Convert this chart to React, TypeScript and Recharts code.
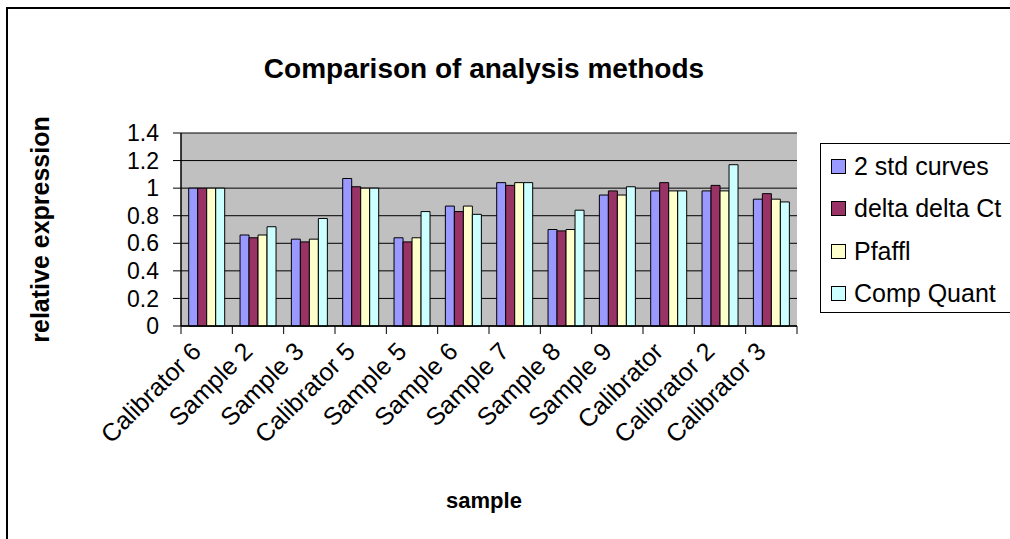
import React from 'react';
import { BarChart, Bar, XAxis, YAxis, CartesianGrid, Legend } from 'recharts';

const categories = ['Calibrator 6', 'Sample 2', 'Sample 3', 'Calibrator 5', 'Sample 5', 'Sample 6', 'Sample 7', 'Sample 8', 'Sample 9', 'Calibrator', 'Calibrator 2', 'Calibrator 3'];
const stdCurves = [1, 0.66, 0.63, 1.07, 0.64, 0.87, 1.04, 0.7, 0.95, 0.98, 0.98, 0.92];
const deltaDeltaCt = [1, 0.64, 0.61, 1.01, 0.61, 0.83, 1.02, 0.69, 0.98, 1.04, 1.02, 0.96];
const pfaffl = [1, 0.66, 0.63, 1.0, 0.64, 0.87, 1.04, 0.7, 0.95, 0.98, 0.98, 0.92];
const compQuant = [1, 0.72, 0.78, 1.0, 0.83, 0.81, 1.04, 0.84, 1.01, 0.98, 1.17, 0.9];
const yTicks = [0, 0.2, 0.4, 0.6, 0.8, 1, 1.2, 1.4];

const seriesNames = ['2 std curves', 'delta delta Ct', 'Pfaffl', 'Comp Quant'];
const seriesColors = ['#9999FF', '#993366', '#FFFFCC', '#CCFFFF'];

const data = categories.map((c, i) => ({
  name: c,
  s0: stdCurves[i],
  s1: deltaDeltaCt[i],
  s2: pfaffl[i],
  s3: compQuant[i],
}));

const W = 1010;
const H = 539;
const PLOT_LEFT = 181;
const PLOT_RIGHT = 797;
const PLOT_TOP = 133;
const PLOT_BOTTOM = 326;
const X_AXIS_H = 190;
const FONT = 'Arial, "Liberation Sans", sans-serif';
const BAND = (PLOT_RIGHT - PLOT_LEFT) / categories.length;

const XTick = (props: any) => {
  const { x, y, payload, index } = props;
  const left = x - BAND / 2;
  const tx = x - 4;
  const ty = y + 27;
  return (
    <g>
      <line x1={left} y1={y} x2={left} y2={y + 8} stroke="#000" strokeWidth={1} />
      {index === categories.length - 1 && (
        <line x1={x + BAND / 2} y1={y} x2={x + BAND / 2} y2={y + 8} stroke="#000" strokeWidth={1} />
      )}
      <text
        x={tx}
        y={ty}
        transform={`rotate(-45, ${tx}, ${ty})`}
        textAnchor="end"
        fontSize={25}
        fontFamily={FONT}
        fill="#000"
      >
        {payload.value}
      </text>
    </g>
  );
};

const LegendContent = () => (
  <div
    style={{
      width: 210,
      height: 170,
      border: '1.5px solid #000',
      background: '#fff',
      boxSizing: 'border-box',
      position: 'relative',
      fontFamily: FONT,
    }}
  >
    {seriesNames.map((n, i) => (
      <div
        key={n}
        style={{
          position: 'absolute',
          left: 10,
          top: 22 + i * 42.5 - 15,
          height: 30,
          display: 'flex',
          alignItems: 'center',
          whiteSpace: 'nowrap',
        }}
      >
        <span
          style={{
            display: 'inline-block',
            width: 13,
            height: 13,
            background: seriesColors[i],
            border: '1px solid #000',
            marginRight: 8,
          }}
        />
        <span style={{ fontSize: 25, color: '#000' }}>{n}</span>
      </div>
    ))}
  </div>
);

export default function App() {
  return (
    <div style={{ position: 'absolute', left: 0, top: 0, width: W, height: H, overflow: 'hidden', background: '#fff' }}>
      <div
        style={{
          position: 'absolute',
          left: 6,
          top: 7,
          width: W + 20,
          height: H + 20,
          borderLeft: '2px solid #000',
          borderTop: '2px solid #000',
        }}
      />
      <div
        style={{
          position: 'absolute',
          left: 0,
          width: 968,
          top: 50,
          textAlign: 'center',
          fontFamily: FONT,
          fontWeight: 'bold',
          fontSize: 28,
          color: '#000',
          lineHeight: '38px',
        }}
      >
        Comparison of analysis methods
      </div>
      <div style={{ position: 'absolute', left: 0, top: 0 }}>
        <BarChart
          width={W}
          height={H}
          data={data}
          margin={{ top: PLOT_TOP, right: W - PLOT_RIGHT, bottom: H - PLOT_BOTTOM - X_AXIS_H, left: 20 }}
          barCategoryGap="15%"
          barGap={0}
        >
          <CartesianGrid vertical={false} fill="#C0C0C0" stroke="#000" strokeWidth={1} />
          <XAxis
            dataKey="name"
            interval={0}
            height={X_AXIS_H}
            tickLine={false}
            tickSize={0}
            tickMargin={0}
            axisLine={{ stroke: '#000', strokeWidth: 1.5 }}
            tick={<XTick />}
            label={{
              value: 'sample',
              position: 'insideBottom',
              offset: 8,
              dx: -5,
              style: { fontFamily: FONT, fontWeight: 'bold', fontSize: 22, fill: '#000' },
            }}
          />
          <XAxis xAxisId="top" dataKey="name" orientation="top" height={0} tick={false} tickLine={false} axisLine={{ stroke: '#808080', strokeWidth: 1.5 }} />
          <YAxis
            domain={[0, 1.4]}
            ticks={yTicks}
            interval={0}
            width={PLOT_LEFT - 20}
            tickSize={8}
            tickMargin={14}
            tickLine={{ stroke: '#000' }}
            axisLine={{ stroke: '#000', strokeWidth: 1.5 }}
            tick={{ fontSize: 23, fontFamily: FONT, fill: '#000' }}
            label={{
              value: 'relative expression',
              angle: -90,
              position: 'insideLeft',
              offset: 20,
              style: { textAnchor: 'middle', fontFamily: FONT, fontWeight: 'bold', fontSize: 25, fill: '#000' },
            }}
          />
          <YAxis yAxisId="right" orientation="right" domain={[0, 1.4]} width={0} tick={false} tickLine={false} axisLine={{ stroke: '#808080', strokeWidth: 1.5 }} />
          {seriesNames.map((n, i) => (
            <Bar
              key={n}
              dataKey={`s${i}`}
              name={n}
              fill={seriesColors[i]}
              stroke="#000"
              strokeWidth={1}
              isAnimationActive={false}
            />
          ))}
          <Legend
            layout="vertical"
            align="center"
            verticalAlign="middle"
            content={<LegendContent />}
            wrapperStyle={{ left: 820, top: 143, width: 210, height: 170 }}
          />
        </BarChart>
      </div>
    </div>
  );
}
